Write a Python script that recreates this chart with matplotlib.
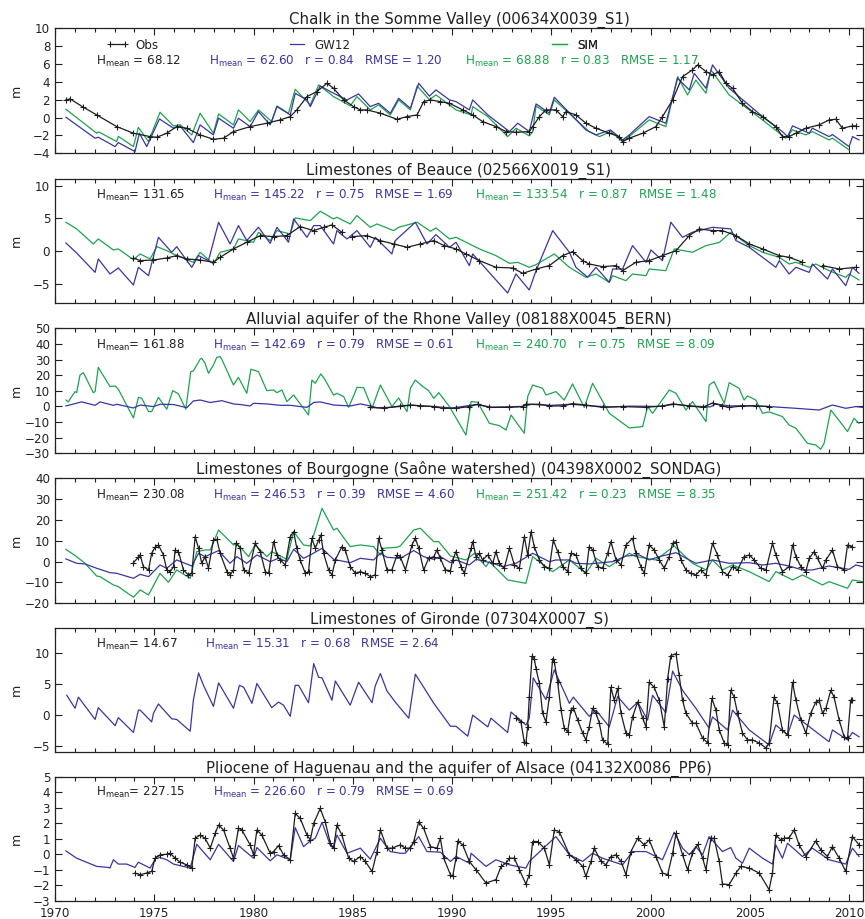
import numpy as np
import matplotlib
matplotlib.use('Agg')
import matplotlib.pyplot as plt
from matplotlib.ticker import MultipleLocator
from matplotlib.lines import Line2D

OBS_C = '#1e1e1e'
GW_C = '#3b35a3'
SIM_C = '#1ea34f'

nan = np.nan

titles = ['Chalk in the Somme Valley (00634X0039_S1)',
          'Limestones of Beauce (02566X0019_S1)',
          'Alluvial aquifer of the Rhone Valley (08188X0045_BERN)',
          'Limestones of Bourgogne (Saône watershed) (04398X0002_SONDAG)',
          'Limestones of Gironde (07304X0007_S)',
          'Pliocene of Haguenau and the aquifer of Alsace (04132X0086_PP6)']
ylims = [(-4, 10), (-8, 11), (-30, 50), (-20, 40), (-6, 14), (-3, 5)]
ysteps = [2, 5, 10, 10, 5, 1]
obs_hmean = ['68.12', '131.65', '161.88', '230.08', '14.67', '227.15']
gw_stats = [('62.60', '0.84', '1.20'), ('145.22', '0.75', '1.69'), ('142.69', '0.79', '0.61'),
            ('246.53', '0.39', '4.60'), ('15.31', '0.68', '2.64'), ('226.60', '0.79', '0.69')]
sim_stats = [('68.88', '0.83', '1.17'), ('133.54', '0.87', '1.48'), ('240.70', '0.75', '8.09'),
             ('251.42', '0.23', '8.35'), None, None]

# ---------------- Panel 1: Somme ----------------
p1_obs_t = [1970.55, 1970.76, 1971.4, 1972.10, 1973.11, 1973.95, 1974.79, 1975.13, 1975.63, 1976.13,
            1976.64, 1977.31, 1977.98, 1978.49, 1978.99, 1979.83, 1980.67, 1981.34, 1981.85, 1982.18,
            1982.69, 1983.19, 1983.70, 1984.03, 1984.54, 1985.04, 1985.38, 1985.71, 1986.39, 1987.23,
            1987.73, 1988.24, 1988.57, 1988.91, 1989.40, 1989.87, 1990.54, 1991.04, 1991.54, 1992.21,
            1992.72, 1993.22, 1993.89, 1994.06, 1994.40, 1994.73, 1995.23, 1995.57, 1995.74, 1996.24,
            1996.74, 1997.25, 1997.92, 1998.42, 1998.59, 1998.93, 1999.60, 2000.27, 2000.60, 2001.11,
            2001.61, 2002.11, 2002.37, 2002.79, 2003.12, 2003.46, 2003.79, 2004.13, 2004.63, 2005.13,
            2005.64, 2006.31, 2006.64, 2006.98, 2007.32, 2007.82, 2008.49, 2008.99, 2009.33, 2009.66,
            2010.17, 2010.34]
p1_obs_v = [1.98, 2.09, 1.2, 0.30, -1.01, -1.75, -2.13, -2.20, -1.75, -1.01,
            -1.19, -1.94, -2.43, -2.31, -1.57, -1.01, -0.63, -0.26, 0.11, 0.86,
            2.35, 2.91, 3.84, 3.28, 1.98, 1.23, 0.86, 0.86, 0.49, -0.19,
            0.11, 0.30, 1.80, 1.98, 1.79, 1.60, 0.86, 0.30, -0.45, -1.01,
            -1.57, -1.64, -1.57, -1.01, 0.11, 0.86, 0.86, 0.11, 0.67, 0.30,
            -0.63, -1.19, -1.75, -2.13, -2.69, -2.31, -1.75, -1.01, 0.11, 1.98,
            4.59, 5.34, 5.90, 5.15, 4.78, 5.15, 3.84, 3.28, 1.60, 0.67,
            0.11, -1.01, -2.13, -2.13, -1.75, -1.19, -0.82, -0.26, -0.19, -1.19,
            -0.93, -0.93]
p1_gw_t = [1970.55, 1972.02, 1972.18, 1973.03, 1973.19, 1974.03, 1974.25, 1974.62, 1975.26, 1975.97,
           1976.30, 1976.97, 1977.31, 1977.98, 1978.24, 1978.99, 1979.24, 1979.83, 1980.25, 1980.84,
           1981.18, 1981.85, 1982.10, 1982.69, 1982.86, 1983.36, 1983.87, 1984.71, 1985.29, 1985.88,
           1986.30, 1986.89, 1987.31, 1987.90, 1988.32, 1988.86, 1989.19, 1989.87, 1990.20, 1990.87,
           1991.04, 1991.80, 1992.89, 1993.31, 1993.89, 1994.23, 1994.90, 1995.15, 1996.74, 1997.25,
           1997.98, 1998.59, 1998.93, 1999.93, 2000.77, 2001.36, 2001.95, 2002.20, 2002.79, 2003.12,
           2003.96, 2005.64, 2006.64, 2006.90, 2007.15, 2007.99, 2008.15, 2008.99, 2009.16, 2010.0,
           2010.17, 2010.5]
p1_gw_v = [0.04, -2.31, -2.20, -3.25, -2.80, -3.81, -1.75, -3.25, -0.15, -1.19,
           -0.93, -2.80, -0.82, -1.94, -0.07, -1.19, -0.07, -1.01, 0.67, -0.82,
           1.23, 0.30, 2.72, 1.98, 1.23, 3.54, 2.91, 1.98, 2.65, 1.23,
           1.60, 0.49, 2.16, 1.04, 3.84, 2.40, 3.10, 1.98, 1.79, 0.86,
           1.98, 0.30, -1.57, -0.63, -1.57, 1.53, 0.50, 2.28, -1.38, -1.94,
           -1.38, -2.50, -1.94, 0.11, -0.63, 4.40, 3.10, 4.96, 3.28, 5.90,
           3.28, 0.11, -1.57, -2.13, -0.93, -1.75, -1.19, -2.13, -1.90, -3.25,
           -2.13, -2.50]
p1_sim_t = [1970.55, 1972.10, 1972.20, 1973.11, 1973.19, 1973.95, 1974.20, 1974.71, 1975.29, 1975.97,
            1976.30, 1976.89, 1977.31, 1977.98, 1978.24, 1978.99, 1979.24, 1979.83, 1980.25, 1980.92,
            1981.18, 1981.76, 1982.10, 1982.86, 1983.28, 1984.03, 1984.87, 1985.21, 1985.88, 1986.30,
            1986.89, 1987.31, 1987.90, 1988.24, 1988.86, 1989.19, 1989.87, 1990.20, 1990.96, 1991.04,
            1991.80, 1992.80, 1993.22, 1993.89, 1994.06, 1994.23, 1994.90, 1995.15, 1996.91, 1997.42,
            1998.00, 1998.59, 1998.93, 1999.93, 2000.77, 2001.36, 2001.86, 2002.28, 2002.79, 2003.04,
            2003.96, 2005.64, 2006.81, 2007.15, 2007.82, 2008.15, 2008.99, 2009.16, 2010.0]
p1_sim_v = [0.93, -1.75, -1.60, -2.69, -2.10, -3.25, -1.10, -2.69, 0.60, -0.93,
            -0.80, -1.94, 0.49, -1.75, 0.41, -0.82, 0.86, -0.45, 0.86, -0.45,
            1.31, 0.49, 3.17, 1.42, 3.66, 2.35, 1.31, 2.35, 0.86, 1.42,
            0.30, 1.98, 0.86, 3.54, 2.00, 2.54, 1.42, 0.86, 0.30, 1.23,
            0.11, -2.13, -1.19, -2.05, -1.57, 1.30, 0.30, 1.98, -1.57, -2.13,
            -1.57, -2.69, -2.10, -0.26, -1.01, 4.59, 2.54, 4.20, 2.72, 5.34,
            2.54, -0.26, -2.31, -1.38, -1.94, -1.57, -2.50, -2.30, -3.62]

# ---------------- Panel 2: Beauce ----------------
p2_obs_t = [1973.95, 1974.29, 1974.96, 1975.63, 1976.13, 1976.64, 1977.31, 1977.98, 1978.32, 1978.99,
            1979.66, 1980.34, 1981.01, 1981.68, 1982.35, 1983.03, 1983.53, 1983.95, 1984.45, 1984.7,
            1984.96, 1985.71, 1986.39, 1987.06, 1987.73, 1988.40, 1989.08, 1989.60, 1990.20, 1990.70,
            1991.38, 1992.21, 1993.05, 1993.56, 1994.23, 1994.90, 1995.57, 1996.07, 1996.58, 1996.91,
            1997.58, 1998.26, 1998.59, 1999.26, 1999.93, 2000.60, 2001.28, 2001.95, 2002.45, 2003.12,
            2003.62, 2004.30, 2004.97, 2005.64, 2006.48, 2006.98, 2007.65, 2008.1, 2008.66, 2009.50,
            2010.34]
p2_obs_v = [-1.07, -1.48, -1.38, -1.07, -0.71, -1.22, -1.38, -1.73, -0.97, 0.31,
            1.33, 2.35, 2.19, 2.35, 3.72, 3.11, 3.62, 3.98, 2.86, nan,
            2.19, 2.35, 1.58, 1.07, 0.56, 1.07, 1.58, 0.82, 0.31, -0.46,
            -1.48, -2.50, -2.60, -3.42, -2.76, -2.24, -0.71, -0.10, -1.48, -1.99,
            -2.40, -2.24, -3.01, -1.73, -1.48, -0.71, 0.05, 2.35, 3.37, 3.11,
            3.11, 2.35, 1.07, 0.31, -0.71, -0.97, -1.73, nan, -2.24, -2.76,
            -2.50]
p2_gw_t = [1970.55, 1971.09, 1972.02, 1972.18, 1972.77, 1973.19, 1973.95, 1974.20, 1974.71, 1975.21,
           1975.88, 1976.13, 1976.89, 1977.23, 1977.73, 1978.24, 1978.82, 1979.24, 1979.66, 1980.25,
           1980.84, 1981.18, 1981.76, 1982.02, 1982.69, 1983.03, 1983.36, 1984.03, 1984.20, 1984.71,
           1985.21, 1985.88, 1986.13, 1986.97, 1987.14, 1988.15, 1988.74, 1989.19, 1989.87, 1990.20,
           1990.87, 1991.04, 1992.80, 1993.22, 1993.89, 1994.23, 1995.07, 1995.91, 1996.24, 1996.83,
           1997.25, 1997.92, 1998.09, 1998.59, 1999.09, 1999.77, 2000.02, 2000.60, 2001.02, 2001.61,
           2002.11, 2003.12, 2004.04, 2004.30, 2004.97, 2005.64, 2006.31, 2006.48, 2006.98, 2007.32,
           2007.99, 2008.15, 2008.91, 2009.16, 2009.83, 2010.17, 2010.50]
p2_gw_v = [1.22, -0.31, -3.27, -1.22, -3.52, -2.60, -5.20, -2.50, -3.78, 2.09,
           -0.20, 0.66, -2.50, -0.71, -1.48, 4.39, 1.07, 3.88, 1.58, 3.62,
           1.17, 3.62, 1.33, 4.90, 2.09, 3.88, 3.88, 1.07, 3.11, 1.84,
           3.11, 0.56, 2.09, -0.46, 1.58, 4.39, 1.07, 2.50, 0.56, 1.33,
           -2.24, -0.46, -6.43, -3.52, -5.97, -3.01, 3.11, -0.20, -2.50, -4.03,
           -2.50, -4.80, -2.76, -2.76, 0.82, -1.73, 0.15, -1.48, 4.39, 2.09,
           2.86, 3.62, 3.37, 1.58, 0.56, -0.97, -2.50, -1.48, -3.52, -2.50,
           -3.27, -1.99, -4.29, -2.76, -5.31, -2.50, -3.42]
p2_sim_t = [1970.55, 1971.09, 1971.93, 1972.18, 1972.94, 1973.19, 1973.95, 1974.29, 1974.79, 1975.13,
            1975.63, 1975.97, 1976.97, 1977.31, 1977.98, 1978.32, 1978.99, 1979.24, 1980.00, 1980.25,
            1980.84, 1981.18, 1981.85, 1982.10, 1982.86, 1983.36, 1984.03, 1984.20, 1984.87, 1985.21,
            1985.88, 1986.22, 1987.06, 1987.31, 1988.24, 1988.91, 1989.19, 1989.87, 1990.20, 1991.38,
            1992.21, 1992.89, 1993.31, 1993.89, 1994.23, 1995.15, 1995.91, 1996.74, 1997.25, 1997.92,
            1998.09, 1998.76, 1999.09, 1999.77, 1999.93, 2000.77, 2001.19, 2002.11, 2002.79, 2003.46,
            2004.04, 2004.97, 2005.64, 2006.48, 2006.98, 2007.32, 2007.99, 2008.32, 2008.99, 2009.83,
            2010.00, 2010.50]
p2_sim_v = [4.39, 3.37, 1.07, 1.84, 0.15, 0.31, -1.33, -0.46, -1.22, 0.66,
            0.05, -0.46, -1.73, -0.20, -1.99, -0.20, 0.31, 1.84, 1.33, 2.86,
            1.58, 3.11, 2.60, 5.05, 4.64, 6.07, 4.90, 5.15, 4.13, 5.41,
            3.62, 4.13, 3.11, 3.62, 4.39, 3.01, 3.52, 1.84, 2.09, 0.31,
            -0.71, -1.89, -1.73, -2.50, -2.09, -0.46, -2.50, -4.03, -3.52, -4.80,
            -3.78, -4.54, -3.52, -3.78, -2.76, -3.01, 0.31, -0.20, 0.82, 1.30,
            2.86, 0.82, -0.20, -0.97, -1.99, -1.73, -2.50, -1.99, -3.01, -4.03,
            -3.52, -4.44]

# ---------------- Panel 3: Rhone ----------------
p3_obs_t = [1985.88, 1986.55, 1987.39, 1987.90, 1988.40, 1989.08, 1989.53, 1990.20, 1990.87, 1991.29,
            1991.88, 1992.89, 1993.56, 1993.72, 1994.40, 1994.90, 1995.57, 1996.07, 1996.74, 1997.58,
            1998.59, 1999.77, 2000.60, 2001.11, 2001.95, 2002.62, 2003.12, 2003.62, 2003.96, 2004.63,
            2005.30, 2005.97]
p3_obs_v = [-0.6, -1.2, 0.3, 0.9, 0.3, -0.1, -1.2, -1.2, -0.1, 1.4,
            -0.6, -0.6, -0.1, 1.4, 1.4, 0.3, 0.3, 1.8, 0.9, -0.6,
            -0.1, -0.6, 0.3, 1.6, 0.3, -0.6, 2.2, 0.3, -0.6, 0.3,
            0.3, -0.1]
p3_gw_t = [1970.55, 1971.34, 1972.02, 1972.27, 1972.94, 1973.11, 1973.95, 1974.29, 1974.96, 1975.29,
           1975.97, 1976.64, 1976.97, 1977.31, 1977.82, 1978.40, 1978.99, 1979.33, 1979.83, 1980.00,
           1980.67, 1981.34, 1981.85, 1982.69, 1983.03, 1983.36, 1984.03, 1984.87, 1985.38, 1985.88,
           1986.22, 1987.00, 1988.00, 1989.00, 1990.00, 1991.20, 1992.00, 1993.50, 1994.00, 1995.00,
           1996.00, 1997.00, 1998.00, 1999.00, 2000.50, 2001.20, 2002.00, 2003.00, 2003.30, 2004.00,
           2005.00, 2006.00, 2007.32, 2008.49, 2009.16, 2009.83, 2010.34, 2010.67]
p3_gw_v = [0.3, 2.9, 0.7, 2.9, 0.7, 1.4, -1.0, 0.9, -0.1, 1.4,
           1.2, -0.8, 3.5, 4.1, 2.5, 3.7, 1.6, 1.2, 0.3, 2.0,
           1.6, 0.7, 0.7, -0.6, 2.5, 2.9, 0.9, 0.3, 1.6, 0.3,
           -0.8, -0.5, 0.8, 0.0, -1.0, 1.2, -0.5, 0.0, 1.3, 0.7,
           1.4, 0.3, -0.3, 0.2, 0.0, 1.4, 0.3, -0.3, 1.6, 0.3,
           0.5, -0.1, -1.2, -2.3, 0.9, -1.2, -0.1, -0.6]
p3_sim_t = [1970.55, 1970.67, 1970.84, 1971.01, 1971.09, 1971.26, 1971.43, 1971.93, 1972.02, 1972.18,
            1972.77, 1973.03, 1973.19, 1973.95, 1974.20, 1974.37, 1974.71, 1974.87, 1975.21, 1975.63,
            1975.93, 1976.22, 1976.59, 1976.84, 1976.97, 1977.31, 1977.39, 1977.56, 1977.73, 1977.98,
            1978.15, 1978.32, 1978.40, 1978.99, 1979.24, 1979.66, 1979.87, 1980.25, 1980.67, 1981.01,
            1981.18, 1981.43, 1981.68, 1982.02, 1982.77, 1982.94, 1983.11, 1983.39, 1983.61, 1984.03,
            1984.20, 1984.54, 1984.79, 1985.04, 1985.21, 1985.55, 1985.97, 1986.39, 1986.97, 1987.31,
            1987.73, 1987.90, 1988.15, 1988.49, 1988.82, 1989.08, 1989.33, 1989.87, 1990.70, 1990.96,
            1991.29, 1991.88, 1992.38, 1992.72, 1992.97, 1993.64, 1993.81, 1994.06, 1994.56, 1994.73,
            1995.23, 1995.65, 1996.07, 1996.66, 1997.08, 1997.92, 1998.93, 1999.60, 1999.85, 2000.10,
            2000.94, 2001.28, 2001.78, 2002.11, 2002.79, 2002.95, 2003.20, 2003.71, 2003.96, 2004.46,
            2004.71, 2004.88, 2005.30, 2005.64, 2005.97, 2006.64, 2006.98, 2007.32, 2007.90, 2008.32,
            2008.57, 2008.74, 2009.08, 2009.41, 2009.92, 2010.25, 2010.50]
p3_sim_v = [4.1, 2.9, 6.3, 9.5, 8.8, 20.1, 21.6, 8.8, 9.5, 25.0,
            12.7, 13.1, 11.0, -7.4, 5.8, 5.2, -3.3, -3.3, 5.8, -1.8,
            10.1, 8.0, -1.8, 22.3, 22.7, 30.2, 30.8, 27.6, 21.2, 26.5,
            31.4, 31.9, 30.2, 13.7, 18.6, 8.4, 23.8, 22.3, 10.1, 10.5,
            8.8, 10.5, 3.1, 7.3, -5.5, 16.9, 14.8, 20.8, 16.9, 7.3,
            8.4, 6.3, -0.6, 6.7, 12.2, 12.0, -1.2, 13.7, -0.1, 5.4,
            -3.3, 11.6, 16.9, 13.1, 10.1, 5.2, 8.8, -0.1, -18.3, 3.1,
            2.7, -10.8, -12.3, -15.1, -5.5, -17.2, 6.3, 13.7, 11.6, 7.3,
            9.5, 4.1, 14.4, -0.6, 14.8, -4.4, -13.8, -12.9, -0.1, -4.4,
            10.5, 8.4, -2.3, 3.1, -9.7, 13.7, 15.9, 2.0, 15.2, 11.6,
            4.1, 6.7, 4.1, -4.4, -3.5, -6.5, -11.9, -14.0, -23.6, -24.7,
            -27.4, -23.6, -2.3, -7.6, -16.1, -7.6, -10.8]

# ---------------- Panel 4: Bourgogne ----------------
p4_obs_t = [1973.95, 1974.20, 1974.29, 1974.45, 1974.71, 1974.87, 1975.04, 1975.21, 1975.46, 1975.63,
            1975.80, 1975.97, 1976.05, 1976.22, 1976.47, 1976.72, 1976.89, 1977.06, 1977.23, 1977.39,
            1977.56, 1977.73, 1977.98, 1978.15, 1978.32, 1978.66, 1978.82, 1978.99, 1979.13, 1979.33,
            1979.50, 1979.75, 1980.08, 1980.34, 1980.59, 1980.76, 1981.01, 1981.18, 1981.34, 1981.60,
            1981.85, 1982.02, 1982.18, 1982.35, 1982.61, 1982.77, 1982.94, 1983.11, 1983.28, 1983.39,
            1983.53, 1983.78, 1983.95, 1984.12, 1984.45, 1984.62, 1984.87, 1985.13, 1985.38, 1985.63,
            1985.88, 1986.13, 1986.30, 1986.47, 1986.72, 1986.97, 1987.23, 1987.39, 1987.65, 1987.98,
            1988.15, 1988.32, 1988.57, 1988.82, 1989.08, 1989.24, 1989.41, 1989.66, 1989.92,
            1990.03, 1990.20, 1990.45, 1990.62, 1990.96, 1991.04, 1991.21, 1991.38, 1991.54, 1991.80,
            1992.05, 1992.21, 1992.38, 1992.63, 1992.89, 1993.14, 1993.39, 1993.64, 1993.81, 1993.98,
            1994.14, 1994.40, 1994.65, 1994.90, 1995.10, 1995.32, 1995.57, 1995.82, 1995.99, 1996.24,
            1996.49, 1996.74, 1996.91, 1997.08, 1997.33, 1997.58, 1997.84, 1998.00, 1998.26, 1998.51,
            1998.76, 1999.09, 1999.26, 1999.51, 1999.68, 1999.93, 2000.18, 2000.44, 2000.69, 2000.94,
            2001.11, 2001.28, 2001.53, 2001.78, 2002.03, 2002.28, 2002.53, 2002.79, 2003.12, 2003.37,
            2003.62, 2003.88, 2004.13, 2004.38, 2004.71, 2004.97, 2005.22, 2005.55, 2005.81, 2006.14,
            2006.31, 2006.64, 2006.98, 2007.15, 2007.32, 2007.57, 2007.82, 2007.99, 2008.24, 2008.41,
            2008.66, 2008.83, 2009.16, 2009.41, 2009.75, 2009.92, 2010.17]
p4_obs_v = [-0.5, 2.1, 3.2, -2.4, -4.0, 4.0, 6.9, 8.0, 3.2, -4.0,
            -4.8, -2.4, 5.6, 4.8, -4.0, -6.4, -5.6, 12.0, 6.4, -0.8,
            2.4, -3.2, 10.4, 10.7, 4.0, -4.8, -6.4, -4.0, 8.8, 6.4,
            -4.0, -5.6, 8.8, 4.8, -4.8, -5.6, 9.6, 3.2, 0.8, -1.6,
            12.0, 14.4, 6.4, 0.8, -5.6, -4.8, 11.2, 6.4, 10.4, 12.8,
            4.0, -4.0, -6.4, 0.8, 7.2, 5.6, -2.4, -5.6, -4.8, -5.6,
            -7.2, -6.4, 11.2, 5.6, -4.0, -4.0, 3.2, 2.4, -4.0, 8.0,
            11.2, 6.4, -4.0, 1.6, 2.4, 5.6, 1.6, -4.0, -4.3,
            0.8, 4.8, -2.4, -5.6, 6.4, 9.6, 2.4, 4.0, 0.8, 3.2,
            -0.8, 4.8, -0.8, -3.2, 6.4, -1.6, -3.2, 12.0, 3.2, 14.4,
            7.2, 0.8, -2.4, -3.2, 10.4, 4.8, -2.4, -4.8, 4.0, 3.2,
            -3.2, -5.6, 7.2, 5.6, -2.4, -3.2, 4.0, 9.6, 0.8, -1.6,
            8.0, 11.2, 4.0, -2.4, -5.6, 8.0, 5.6, 0.8, -3.2, 2.4,
            8.8, 9.6, 0.8, -4.0, -5.6, -6.4, -4.0, -6.4, 8.8, 3.2,
            -4.8, -6.4, -2.4, -4.0, 2.4, 3.2, 0.8, -3.2, -4.0, 8.8,
            3.2, -4.8, -2.4, 8.0, 2.4, -2.4, -4.8, 1.6, 4.8, 1.6,
            -3.2, 0.8, 5.6, -2.4, -4.0, 8.0, 7.0]
p4_gw_t = [1970.55, 1971.09, 1971.51, 1972.10, 1972.27, 1972.77, 1973.11, 1973.95, 1974.29, 1974.71,
           1975.29, 1975.63, 1976.13, 1976.89, 1977.23, 1977.56, 1978.24, 1978.82, 1979.16, 1979.66,
           1980.17, 1980.84, 1981.26, 1981.68, 1982.02, 1982.52, 1982.86, 1983.45, 1984.03, 1984.87,
           1985.38, 1986.05, 1986.39, 1986.72, 1987.39, 1988.07, 1988.57, 1989.08, 1989.41, 1989.92,
           1990.20, 1990.87, 1991.21, 1992.05, 1992.55, 1993.22, 1994.06, 1994.90, 1995.23, 1995.91,
           1996.24, 1996.91, 1998.09, 1998.76, 1999.43, 1999.93, 2000.44, 2001.28, 2001.95, 2002.28,
           2003.12, 2003.96, 2004.97, 2005.64, 2006.31, 2006.98, 2007.65, 2008.15, 2008.99, 2010.00,
           2010.34, 2010.67]
p4_gw_v = [1.3, -0.8, -1.1, -3.2, -3.7, -5.3, -5.6, -8.0, -6.1, -7.2,
           -1.6, -3.2, 0.8, -2.1, 4.0, 2.4, 5.3, -0.8, 2.4, -0.8,
           3.2, 0.0, 1.6, 0.0, 5.9, 1.6, 3.2, 6.4, 1.1, -0.5,
           1.6, 0.8, 4.0, 2.1, 1.6, 5.3, 2.4, 1.1, 2.4, -0.5,
           0.8, -1.6, 1.1, -0.8, -2.4, -0.8, 4.0, 0.0, 0.8, 0.8,
           -0.8, -1.1, 0.0, 2.7, 3.2, 0.8, 2.4, 4.3, 0.8, -0.8,
           0.8, -0.8, -0.5, -1.6, -0.8, -2.1, -4.0, -4.0, -2.1, -3.7,
           -1.6, -2.4]
p4_sim_t = [1970.55, 1971.09, 1971.51, 1972.10, 1972.27, 1972.94, 1973.19, 1973.95, 1974.29, 1974.71,
            1975.29, 1975.71, 1976.13, 1976.81, 1977.14, 1977.56, 1977.82, 1978.24, 1978.99, 1979.16,
            1979.75, 1980.08, 1980.67, 1980.92, 1981.68, 1982.02, 1982.52, 1982.86, 1983.45, 1984.03,
            1984.20, 1984.87, 1985.38, 1986.05, 1986.39, 1986.55, 1987.23, 1987.39, 1988.07, 1988.40,
            1989.08, 1989.33, 1989.92, 1990.70, 1991.12, 1991.71, 1991.88, 1992.80, 1993.72, 1994.06,
            1995.07, 1995.91, 1996.74, 1997.25, 1997.92, 1998.93, 1999.26, 2000.27, 2001.19, 2002.11,
            2002.79, 2003.12, 2003.62, 2004.13, 2004.97, 2005.97, 2006.31, 2007.15, 2007.65, 2008.66,
            2008.99, 2009.92, 2010.17, 2010.67]
p4_sim_v = [5.9, 2.4, -0.8, -6.9, -7.2, -11.2, -12.0, -17.1, -13.6, -16.0,
            -5.6, -9.9, -4.0, -8.0, 4.8, 5.6, 5.6, 15.2, 8.0, 8.8,
            2.4, 8.0, 2.4, 4.8, 1.1, 14.4, 8.0, 7.5, 25.6, 15.2,
            16.0, 7.2, 8.0, 7.2, 3.2, 6.4, 6.9, 7.5, 15.2, 16.0,
            9.6, 9.6, 2.7, 0.8, 4.0, -2.4, 0.0, -8.8, -10.4, 2.4,
            -4.8, 0.8, -5.6, 1.6, -2.4, 4.0, 2.4, 0.8, 7.5, -0.8,
            -4.0, 0.8, -4.0, -1.6, -4.8, -9.6, -4.8, -8.8, -6.4, -11.2,
            -9.6, -12.8, -8.8, -9.6]

# ---------------- Panel 5: Gironde ----------------
p5_obs_t = [1993.22, 1993.47, 1993.64, 1993.72, 1993.81, 1993.89, 1994.03, 1994.14, 1994.23, 1994.40,
            1994.56, 1994.73, 1994.90, 1995.07, 1995.15, 1995.32, 1995.49, 1995.65, 1995.82, 1995.99,
            1996.11, 1996.33, 1996.58, 1996.74, 1996.91, 1997.08, 1997.25, 1997.42, 1997.58, 1997.84,
            1998.00, 1998.17, 1998.34, 1998.51, 1998.76, 1998.93, 1999.09, 1999.35, 1999.60, 1999.77,
            1999.93, 2000.18, 2000.44, 2000.69, 2000.86, 2001.02, 2001.28, 2001.44, 2001.61, 2001.78,
            2002.11, 2002.28, 2002.62, 2002.87, 2003.09, 2003.29, 2003.46, 2003.71, 2003.88, 2004.04,
            2004.21, 2004.38, 2004.63, 2004.88, 2005.13, 2005.47, 2005.81, 2005.97, 2006.22, 2006.39,
            2006.64, 2006.90, 2007.15, 2007.32, 2007.57, 2007.82, 2008.07, 2008.32, 2008.49, 2008.66,
            2008.83, 2009.08, 2009.24, 2009.50, 2009.75, 2009.92, 2010.08, 2010.17]
p5_obs_v = [-0.5, -1.1, -4.4, -4.5, -1.9, 2.9, 9.5, 9.1, 7.5, 5.1,
            0.3, -1.1, 2.9, 9.1, 8.6, 5.3, 0.8, -2.1, -2.7, 0.8,
            1.2, -0.8, -2.9, -4.0, -1.9, 1.1, 0.3, -1.3, -4.0, -4.7,
            4.5, 2.4, 4.3, 0.3, -2.9, -3.2, -0.3, 2.1, -0.5, -1.9,
            5.3, 4.5, 2.4, -1.9, 5.9, 9.6, 9.9, 6.4, 2.4, 0.3,
            -1.3, -1.3, -3.7, -4.5, 2.7, 0.8, -2.4, -4.5, -4.8, 4.0,
            2.9, 0.3, -2.9, -4.0, -4.0, -4.5, -5.3, -4.5, 2.9, 1.9,
            -2.4, -3.2, 5.3, 2.4, -0.8, -2.9, 0.3, 2.1, 2.4, 0.3,
            1.1, 4.0, 2.9, -0.8, -3.5, -3.7, 2.4, 2.5]
p5_gw_t = [1970.59, 1971.01, 1971.18, 1972.02, 1972.18, 1973.03, 1973.19, 1973.95, 1974.20, 1974.29,
           1974.87, 1974.96, 1975.21, 1975.88, 1976.13, 1976.81, 1976.97, 1977.23, 1977.48, 1977.98,
           1978.24, 1978.99, 1979.29, 1979.50, 1979.92, 1980.17, 1980.92, 1981.26, 1981.51, 1981.85,
           1982.10, 1982.27, 1982.77, 1983.03, 1983.28, 1983.45, 1983.95, 1984.12, 1984.87, 1985.29,
           1985.97, 1986.13, 1986.39, 1986.72, 1987.14, 1987.82, 1988.15, 1988.57, 1989.08, 1989.92,
           1990.20, 1990.79, 1991.04, 1991.80, 1991.96, 1992.80, 1992.97, 1993.72, 1993.89, 1994.09,
           1994.73, 1995.15, 1995.91, 1996.11, 1996.91, 1997.25, 1997.92, 1998.34, 1998.93, 1999.35,
           1999.85, 2000.10, 2000.77, 2001.11, 2001.61, 2002.28, 2002.95, 2003.12, 2003.88, 2004.13,
           2004.97, 2005.97, 2006.31, 2006.90, 2007.23, 2008.99, 2009.16, 2009.92, 2010.17, 2010.50]
p5_gw_v = [3.2, 1.1, 2.9, -0.7, 1.2, -1.7, -0.4, -2.8, 0.8, 0.8,
           -1.1, 0.3, 1.8, -0.6, -0.7, -2.6, 2.4, 6.8, 4.8, 1.4,
           5.2, 1.1, 4.8, 4.5, 1.9, 5.1, 1.2, 2.1, 1.6, -0.2,
           4.8, 4.8, 2.0, 8.3, 6.1, 6.0, 2.4, 5.5, 1.6, 5.3,
           2.0, 4.7, 6.7, 3.9, 2.1, -0.5, 6.6, 4.5, 1.9, -1.8,
           -1.8, -3.4, 0.0, -1.9, -0.5, -2.8, 0.5, -1.6, -0.5, 6.0,
           2.5, 7.3, 1.9, 2.9, -0.2, 0.8, -1.9, 3.0, 0.8, 2.1,
           -0.8, 3.2, 0.4, 7.1, 4.0, 1.1, -2.1, -0.3, -2.4, 0.8,
           -2.4, -4.8, -1.6, -3.2, 0.0, -4.3, -2.4, -4.0, -2.8, -3.5]

# ---------------- Panel 6: Alsace ----------------
p6_obs_t = [1974.03, 1974.29, 1974.62, 1974.87, 1975.04, 1975.29, 1975.63, 1975.80, 1976.05, 1976.30,
            1976.64, 1976.89, 1977.06, 1977.31, 1977.56, 1977.82, 1978.07, 1978.24, 1978.49, 1978.82,
            1978.99, 1979.24, 1979.41, 1979.83, 1980.00, 1980.17, 1980.42, 1980.84, 1981.01, 1981.26,
            1981.51, 1981.85, 1982.10, 1982.35, 1982.69, 1982.86, 1983.03, 1983.36, 1983.61, 1983.87,
            1984.03, 1984.20, 1984.45, 1984.79, 1985.04, 1985.38, 1985.63, 1985.97, 1986.22, 1986.39,
            1986.72, 1986.97, 1987.39, 1987.65, 1987.90, 1988.07, 1988.32, 1988.57, 1988.91, 1989.24,
            1989.41, 1989.58, 1989.92, 1990.03, 1990.20, 1990.29, 1990.54, 1990.87, 1991.21, 1991.71,
            1992.21, 1992.47, 1992.72, 1992.89, 1993.14, 1993.39, 1993.72, 1993.89, 1994.06, 1994.31,
            1994.65, 1994.90, 1995.15, 1995.40, 1995.91, 1996.24, 1996.58, 1996.74, 1997.00, 1997.16,
            1997.50, 1997.75, 1998.00, 1998.26, 1998.51, 1998.76, 1999.01, 1999.35, 1999.68, 1999.93,
            2000.27, 2000.60, 2000.86, 2001.11, 2001.28, 2001.61, 2001.86, 2002.11, 2002.37, 2002.62,
            2002.79, 2003.04, 2003.20, 2003.46, 2003.62, 2003.96, 2004.30, 2004.55, 2004.97, 2005.47,
            2005.97, 2006.14, 2006.31, 2006.56, 2006.73, 2006.98, 2007.23, 2007.48, 2007.82, 2008.32,
            2008.57, 2008.91, 2009.16, 2009.50, 2009.83, 2010.17, 2010.50]
p6_obs_v = [-1.22, -1.33, -1.22, -1.12, -0.26, -0.04, 0.00, 0.06, -0.26, -0.52,
            -0.69, -0.90, 1.03, 1.24, 1.03, 0.39, 1.35, 1.89, 1.57, 0.39,
            -0.26, 1.67, 1.57, 0.60, -0.04, 1.57, 1.24, 0.06, 0.17, 0.56,
            -0.04, -0.36, 2.64, 2.32, 1.24, 0.92, 2.00, 2.96, 2.10, 0.71,
            0.39, 1.89, 1.24, -0.26, -0.47, -0.15, -0.47, -1.12, 0.17, 1.57,
            0.39, 0.39, 0.60, 0.39, 0.39, 0.82, 2.10, 1.67, 0.49, 0.39,
            1.03, -0.26, -1.33, -1.44, -0.26, 0.86, 0.60, -0.47, -1.01, -1.87,
            -1.65, -0.79, -0.58, -0.26, -0.26, -1.01, -1.93, -1.33, 0.82, 0.82,
            0.39, -0.69, 1.57, 1.46, -0.04, -0.36, -0.79, -1.44, -0.47, 0.39,
            -0.47, -0.69, -0.15, -0.04, -0.47, -1.33, 0.17, 1.03, 0.60, 0.92,
            -0.15, -1.22, -1.33, 0.06, 1.35, -0.04, -1.01, 0.06, 0.64, -0.26,
            -1.01, 1.03, 1.03, -0.47, -1.93, -1.97, -1.22, -0.79, -0.90, -1.22,
            -2.30, -1.22, 1.24, 0.92, 1.03, 1.07, 1.57, 0.60, -0.15, 0.86,
            0.28, -0.15, 0.49, -0.26, -1.12, 1.14, 0.60]
p6_gw_t = [1970.55, 1971.09, 1972.10, 1972.69, 1972.77, 1972.94, 1973.19, 1973.61, 1974.03, 1974.20,
           1974.79, 1975.13, 1975.63, 1975.97, 1976.81, 1977.14, 1977.82, 1978.24, 1978.99, 1979.24,
           1980.00, 1980.17, 1980.84, 1981.18, 1981.85, 1982.10, 1982.52, 1982.86, 1983.11, 1983.45,
           1983.87, 1984.03, 1984.20, 1984.71, 1985.38, 1985.88, 1986.39, 1986.89, 1987.39, 1987.65,
           1988.32, 1988.74, 1989.41, 1989.92, 1990.20, 1990.87, 1990.96, 1991.71, 1992.21, 1992.89,
           1993.72, 1993.89, 1995.23, 1995.91, 1996.58, 1997.08, 1997.58, 1998.59, 1999.09, 1999.77,
           2000.60, 2001.19, 2001.61, 2001.95, 2002.28, 2002.62, 2002.95, 2003.62, 2004.04, 2004.30,
           2004.63, 2004.97, 2005.64, 2006.14, 2006.31, 2006.64, 2006.90, 2007.65, 2008.15, 2008.99,
           2009.83, 2010.17, 2010.50]
p6_gw_v = [0.21, -0.26, -0.79, -0.86, -0.90, -0.36, -0.64, -0.64, -0.86, -0.52,
           -0.90, -0.15, -0.36, -0.64, -0.90, 0.64, -0.36, 0.64, -0.47, 0.56,
           -0.26, 0.43, -0.43, -0.04, -0.36, 1.72, 0.49, 0.86, 1.03, 2.06,
           0.56, 0.39, 1.24, 0.06, 0.39, -0.32, 1.03, 0.17, 0.06, 0.06,
           1.14, 0.17, 0.13, -0.47, -0.15, -0.58, 0.06, -0.79, -0.36, -0.69,
           -0.90, -0.47, 1.14, -0.04, -0.47, 0.06, -0.26, -0.69, 0.17, 0.17,
           -0.36, 1.42, 0.39, -0.04, 0.49, -0.04, 1.14, 0.17, 0.43, -0.26,
           -0.58, 0.39, -0.26, -0.64, 0.60, -0.26, 0.71, -0.15, 0.39, -0.36,
           -0.64, 0.39, -0.15]

obs_series = [(p1_obs_t, p1_obs_v), (p2_obs_t, p2_obs_v), (p3_obs_t, p3_obs_v),
              (p4_obs_t, p4_obs_v), (p5_obs_t, p5_obs_v), (p6_obs_t, p6_obs_v)]
gw_series = [(p1_gw_t, p1_gw_v), (p2_gw_t, p2_gw_v), (p3_gw_t, p3_gw_v),
             (p4_gw_t, p4_gw_v), (p5_gw_t, p5_gw_v), (p6_gw_t, p6_gw_v)]
sim_series = [(p1_sim_t, p1_sim_v), (p2_sim_t, p2_sim_v), (p3_sim_t, p3_sim_v),
              (p4_sim_t, p4_sim_v), None, None]

# ---------------- figure ----------------
W, H = 865, 919
fig = plt.figure(figsize=(W / 100, H / 100), dpi=100)
plt.rcParams['font.family'] = ['DejaVu Sans']

axes_px = [(28.3, 153.3), (179.0, 303.3), (328.3, 453.3), (478.3, 603.3), (628.3, 752.3), (777.0, 900.5)]
left_px, right_px = 55, 863
text_y = [0.738, 0.871, 0.864, 0.866, 0.871, 0.871]
FS = 8.6

for i in range(6):
    top, bot = axes_px[i]
    ax = fig.add_axes([left_px / W, 1 - bot / H, (right_px - left_px) / W, (bot - top) / H])
    st = sim_series[i]
    if st is not None:
        ax.plot(st[0], st[1], color=SIM_C, lw=0.9, zorder=2)
    gt = gw_series[i]
    ax.plot(gt[0], gt[1], color=GW_C, lw=0.9, zorder=3)
    ot = obs_series[i]
    ax.plot(ot[0], ot[1], color=OBS_C, lw=0.9, marker='+', ms=4.5, mew=0.8, zorder=4)

    ax.set_xlim(1970, 2010.7)
    ax.set_ylim(*ylims[i])
    ax.xaxis.set_major_locator(MultipleLocator(5))
    ax.xaxis.set_minor_locator(MultipleLocator(1))
    ax.yaxis.set_major_locator(MultipleLocator(ysteps[i]))
    ax.tick_params(which='both', direction='in', top=True, right=True, labelsize=FS, colors='#222222')
    ax.tick_params(which='major', length=5, width=0.8)
    ax.tick_params(which='minor', length=3, width=0.8)
    ax.tick_params(axis='x', which='major', pad=4.5)
    if i < 5:
        ax.tick_params(labelbottom=False)
    for s in ax.spines.values():
        s.set_linewidth(0.9)
        s.set_color('#222222')
    ax.set_ylabel('m', fontsize=FS + 0.5, color='#222222')
    ax.yaxis.set_label_coords(-0.040, 0.5)
    ax.set_title(titles[i], fontsize=10.8, color='#222222', pad=3)

    ty = text_y[i]
    sep = ' = ' if i == 0 else '= '
    ax.text(0.051, ty, r'H$_{\mathrm{mean}}$' + sep + obs_hmean[i], transform=ax.transAxes,
            fontsize=FS, color='#222222', va='center', ha='left')
    g = gw_stats[i]
    gx = 0.186 if i == 4 else (0.191 if i == 0 else 0.195)
    ax.text(gx, ty, r'H$_{\mathrm{mean}}$ = %s   r = %s   RMSE = %s' % g, transform=ax.transAxes,
            fontsize=FS, color=GW_C, va='center', ha='left')
    if sim_stats[i] is not None:
        s_ = sim_stats[i]
        sx = 0.507 if i == 0 else 0.520
        ax.text(sx, ty, r'H$_{\mathrm{mean}}$ = %s   r = %s   RMSE = %s' % s_, transform=ax.transAxes,
                fontsize=FS, color=SIM_C, va='center', ha='left')

    if i == 0:
        h_obs = Line2D([], [], color=OBS_C, lw=0.9, marker='+', ms=4.5, mew=0.8)
        h_gw = Line2D([], [], color=GW_C, lw=0.9)
        h_sim = Line2D([], [], color=SIM_C, lw=0.9)
        for h, lab, x in [(h_obs, 'Obs', 0.064), (h_gw, 'GW12', 0.286), (h_sim, 'SIM', 0.611)]:
            lg = ax.legend([h], [lab], loc='center left', bbox_to_anchor=(x, 0.866), frameon=False,
                           fontsize=FS, numpoints=2, handlelength=1.8, handletextpad=0.6,
                           borderpad=0, borderaxespad=0, labelcolor='#222222')
            ax.add_artist(lg)

fig.savefig('out.png', dpi=100)
